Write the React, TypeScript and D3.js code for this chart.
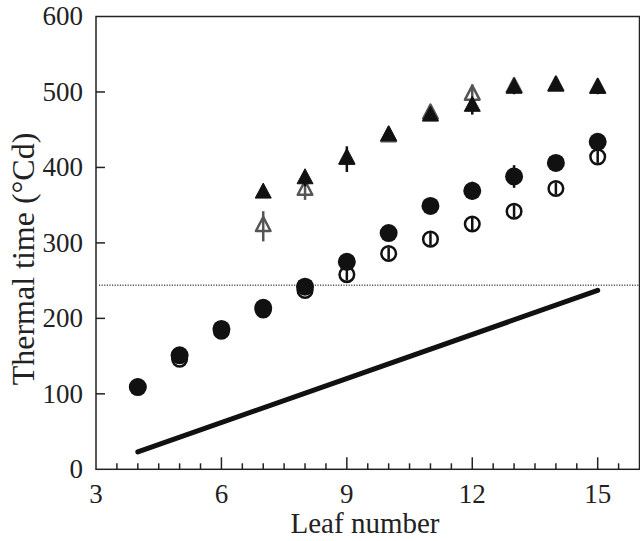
import React from "react";
import * as d3 from "d3";

const leaves = [4, 5, 6, 7, 8, 9, 10, 11, 12, 13, 14, 15];
const filledCircle = [109, 151, 186, 214, 242, 275, 313, 349, 369, 388, 406, 434];
const filledCircleErr = [4, 4, 4, 4, 4, 5, 4, 4, 12, 15, 5, 5];
const openCircle = [109, 146, 183, 211, 237, 258, 286, 305, 325, 342, 372, 414];
const openCircleErr = [6, 6, 6, 6, 6, 8, 8, 8, 8, 8, 8, 8];

const triLeaves = [7, 8, 9, 10, 11, 12, 13, 14, 15];
const blackTri = [366, 385, 411, 442, 468, 481, 505, 508, 505];
const blackTriErr = [4, 10, 17, 5, 6, 11, 8, 6, 8];
const grayTri = [322, 370, 411, 441, 471, 496, 506, 508, 505];
const grayTriErr = [20, 13, 6, 6, 6, 14, 6, 6, 6];

const lineLeaves = [4, 15];
const lineValues = [23, 237];
const thresholdValue = 244;

const xTicks = [3, 6, 9, 12, 15];
const yTicks = [0, 100, 200, 300, 400, 500, 600];

const W = 640;
const H = 541;
const FONT = "'Liberation Serif', 'Times New Roman', serif";

export default function App() {
  const x = d3.scaleLinear().domain([3, 16]).range([96, 639.5]);
  const y = d3.scaleLinear().domain([0, 600]).range([469.3, 16.5]);
  const minorTicks = d3.range(3.5, 16, 0.5).filter((v) => !xTicks.includes(v));

  const tri = (cx: number, cy: number, hw: number, h: number) =>
    `M${cx},${cy - (2 * h) / 3}L${cx + hw},${cy + h / 3}L${cx - hw},${cy + h / 3}Z`;

  const line = d3
    .line<number>()
    .x((_, i) => x(lineLeaves[i]))
    .y((d) => y(d));

  const [x0, x1] = x.range();
  const [y0, y1] = y.range();

  return (
    <svg
      width={W}
      height={H}
      style={{ position: "absolute", left: 0, top: 0, background: "#fff" }}
    >
      <rect x={0} y={0} width={W} height={H} fill="#fff" />
      {/* threshold dotted line */}
      <line
        x1={x0 + 3}
        x2={x1}
        y1={y(thresholdValue)}
        y2={y(thresholdValue)}
        stroke="#000"
        strokeWidth={1}
        strokeDasharray="1.2,1.4"
      />
      {/* thick line */}
      <path d={line(lineValues) || ""} stroke="#111" strokeWidth={5} fill="none" strokeLinecap="round" />

      {/* open circles */}
      {leaves.map((l, i) => (
        <g key={"oc" + l}>
          <circle cx={x(l)} cy={y(openCircle[i])} r={7.3} fill="#fff" stroke="#111" strokeWidth={2.5} />
          <line
            x1={x(l)}
            x2={x(l)}
            y1={y(openCircle[i] - openCircleErr[i])}
            y2={y(openCircle[i] + openCircleErr[i])}
            stroke="#111"
            strokeWidth={2.5}
          />
        </g>
      ))}
      {/* filled circles */}
      {leaves.map((l, i) => (
        <g key={"fc" + l}>
          <line
            x1={x(l)}
            x2={x(l)}
            y1={y(filledCircle[i] - filledCircleErr[i])}
            y2={y(filledCircle[i] + filledCircleErr[i])}
            stroke="#111"
            strokeWidth={2.5}
          />
          <circle cx={x(l)} cy={y(filledCircle[i])} r={9} fill="#111" />
        </g>
      ))}
      {/* gray open triangles */}
      {triLeaves.map((l, i) => (
        <g key={"gt" + l}>
          <path d={tri(x(l), y(grayTri[i]), 7.3, 14)} fill="#fff" stroke="#555" strokeWidth={2.5} strokeLinejoin="round" />
          <line
            x1={x(l)}
            x2={x(l)}
            y1={y(grayTri[i] - grayTriErr[i])}
            y2={y(grayTri[i] + grayTriErr[i])}
            stroke="#555"
            strokeWidth={2.5}
          />
        </g>
      ))}
      {/* black triangles */}
      {triLeaves.map((l, i) => (
        <g key={"bt" + l}>
          <line
            x1={x(l)}
            x2={x(l)}
            y1={y(blackTri[i] - blackTriErr[i])}
            y2={y(blackTri[i] + blackTriErr[i])}
            stroke="#111"
            strokeWidth={2.5}
          />
          <path d={tri(x(l), y(blackTri[i]), 8, 15)} fill="#111" stroke="#111" strokeWidth={1} strokeLinejoin="round" />
        </g>
      ))}

      {/* frame */}
      <rect x={x0} y={y1} width={x1 - x0} height={y0 - y1} fill="none" stroke="#222" strokeWidth={1.5} />

      {/* x ticks */}
      {xTicks.map((t) => (
        <g key={"xt" + t}>
          {t !== 3 && <line x1={x(t)} x2={x(t)} y1={y0} y2={y0 - 12} stroke="#222" strokeWidth={1.5} />}
          <text x={x(t)} y={503} textAnchor="middle" fontFamily={FONT} fontSize={27} fill="#222">
            {t}
          </text>
        </g>
      ))}
      {minorTicks.map((t) => (
        <line key={"mt" + t} x1={x(t)} x2={x(t)} y1={y0} y2={y0 - 6} stroke="#222" strokeWidth={1.5} />
      ))}
      {/* y ticks */}
      {yTicks.map((t) => (
        <g key={"yt" + t}>
          {t !== 0 && t !== 600 && <line x1={x0} x2={x0 + 9} y1={y(t)} y2={y(t)} stroke="#222" strokeWidth={1.5} />}
          <text x={83} y={y(t)} dy="0.33em" textAnchor="end" fontFamily={FONT} fontSize={27} fill="#222">
            {t}
          </text>
        </g>
      ))}
      <text x={365} y={533} textAnchor="middle" fontFamily={FONT} fontSize={29} fill="#222">
        Leaf number
      </text>
      <text
        transform={`translate(34,259) rotate(-90)`}
        textAnchor="middle"
        fontFamily={FONT}
        fontSize={32}
        fill="#222"
      >
        Thermal time (°Cd)
      </text>
    </svg>
  );
}
